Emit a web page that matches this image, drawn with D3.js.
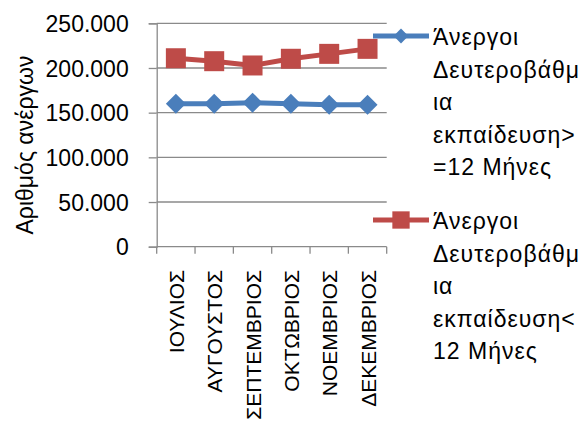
<html>
<head>
<meta charset="utf8">
<style>
  body { margin: 0; background: #fff; }
  text { font-family: "Liberation Sans", Arial, sans-serif; fill: #000; }
</style>
</head>
<body>
<svg width="586" height="426"></svg>
<script src="https://d3js.org/d3.v7.min.js"></script>
<script>
// data
var months = ["ΙΟΥΛΙΟΣ", "ΑΥΓΟΥΣΤΟΣ", "ΣΕΠΤΕΜΒΡΙΟΣ", "ΟΚΤΩΒΡΙΟΣ", "ΝΟΕΜΒΡΙΟΣ", "ΔΕΚΕΜΒΡΙΟΣ"];
var longTerm = [160000, 160000, 161200, 160000, 158900, 158900];   // >=12 months
var shortTerm = [210900, 207600, 202800, 210300, 215800, 221400];  // <12 months
var yTicks = [0, 50000, 100000, 150000, 200000, 250000];
var seriesNames = [
  ["Άνεργοι", "Δευτεροβάθμ", "ια", "εκπαίδευση>", "=12 Μήνες"],
  ["Άνεργοι", "Δευτεροβάθμ", "ια", "εκπαίδευση<", "12 Μήνες"]
];
var yTitle = "Αριθμός ανέργων";

var svg = d3.select("svg");
var fontSize = 23;
var blue = "#4A7EBB", red = "#BE4B48", gridColor = "#8a8a8a";

var x = d3.scaleBand().domain(months).range([156.7, 386.7]);
var y = d3.scaleLinear().domain([0, 250000]).range([246.7, 23.3]);

var fmt = d3.formatLocale({decimal: ",", thousands: ".", grouping: [3], currency: ["", "€"]}).format(",");

// gridlines
svg.append("g").selectAll("line")
  .data(yTicks.filter(function(d) { return d > 0; }))
  .enter().append("line")
  .attr("x1", 156.7).attr("x2", 386.7)
  .attr("y1", d => y(d)).attr("y2", d => y(d))
  .attr("stroke", gridColor).attr("stroke-width", 1.3);

// y axis
var yAxis = svg.append("g").attr("transform", "translate(156.7,0)")
  .call(d3.axisLeft(y).tickValues(yTicks).tickFormat(fmt).tickSize(8).tickPadding(20));
yAxis.select(".domain").attr("stroke", gridColor).attr("stroke-width", 1.3);
yAxis.selectAll(".tick line").attr("stroke", gridColor).attr("stroke-width", 1.3);
yAxis.selectAll(".tick text").style("font-size", fontSize + "px").attr("font-family", null).attr("dy", "0.35em");

// x axis, ticks between categories
var edges = months.map(m => x(m)).concat([x.range()[1]]);
var xg = svg.append("g");
xg.append("line").attr("x1", 156.7).attr("x2", 386.7).attr("y1", y(0)).attr("y2", y(0))
  .attr("stroke", gridColor).attr("stroke-width", 1.3);
xg.selectAll("line.tk").data(edges).enter().append("line").attr("class", "tk")
  .attr("x1", d => d).attr("x2", d => d).attr("y1", y(0)).attr("y2", y(0) + 7)
  .attr("stroke", gridColor).attr("stroke-width", 1.3);
xg.selectAll("text").data(months).enter().append("text")
  .attr("transform", d => "translate(" + (x(d) + x.bandwidth() / 2 + 8) + ",270) rotate(-90)")
  .attr("text-anchor", "end")
  .style("font-size", "21px")
  .text(d => d);

// y title
svg.append("text")
  .attr("transform", "translate(33,145) rotate(-90)")
  .attr("text-anchor", "middle")
  .style("font-size", fontSize + "px")
  .text(yTitle);

var cx = d => x(d) + x.bandwidth() / 2;
var line = d3.line().x((d, i) => cx(months[i])).y(d => y(d));

// short term series (red squares)
svg.append("path").datum(shortTerm).attr("d", line)
  .attr("fill", "none").attr("stroke", red).attr("stroke-width", 5).attr("stroke-linejoin", "round");
svg.append("g").selectAll("path").data(shortTerm).enter().append("path")
  .attr("d", d3.symbol(d3.symbolSquare, 400))
  .attr("transform", (d, i) => "translate(" + cx(months[i]) + "," + y(d) + ")")
  .attr("fill", red);

// long term series (blue diamonds)
svg.append("path").datum(longTerm).attr("d", line)
  .attr("fill", "none").attr("stroke", blue).attr("stroke-width", 5).attr("stroke-linejoin", "round");
svg.append("g").selectAll("path").data(longTerm).enter().append("path")
  .attr("d", d3.symbol(d3.symbolSquare, 200))
  .attr("transform", (d, i) => "translate(" + cx(months[i]) + "," + y(d) + ") rotate(45)")
  .attr("fill", blue);

// legend
var legendY = [36, 220];
var colors = [blue, red];
var leg = svg.append("g").selectAll("g").data(seriesNames).enter().append("g")
  .attr("transform", (d, i) => "translate(0," + legendY[i] + ")");
leg.append("line").attr("x1", 373).attr("x2", 429).attr("y1", 0).attr("y2", 0)
  .attr("stroke", (d, i) => colors[i]).attr("stroke-width", 5);
leg.append("path")
  .attr("d", (d, i) => d3.symbol(d3.symbolSquare, i === 0 ? 110 : 300)())
  .attr("transform", (d, i) => "translate(401,0)" + (i === 0 ? " rotate(45)" : ""))
  .attr("fill", (d, i) => colors[i]);
leg.selectAll("text").data(d => d).enter().append("text")
  .attr("x", 433).attr("y", (d, j) => 9 + j * 32.5)
  .style("font-size", fontSize + "px")
  .style("letter-spacing", "1px")
  .text(d => d);
</script>
</body>
</html>
